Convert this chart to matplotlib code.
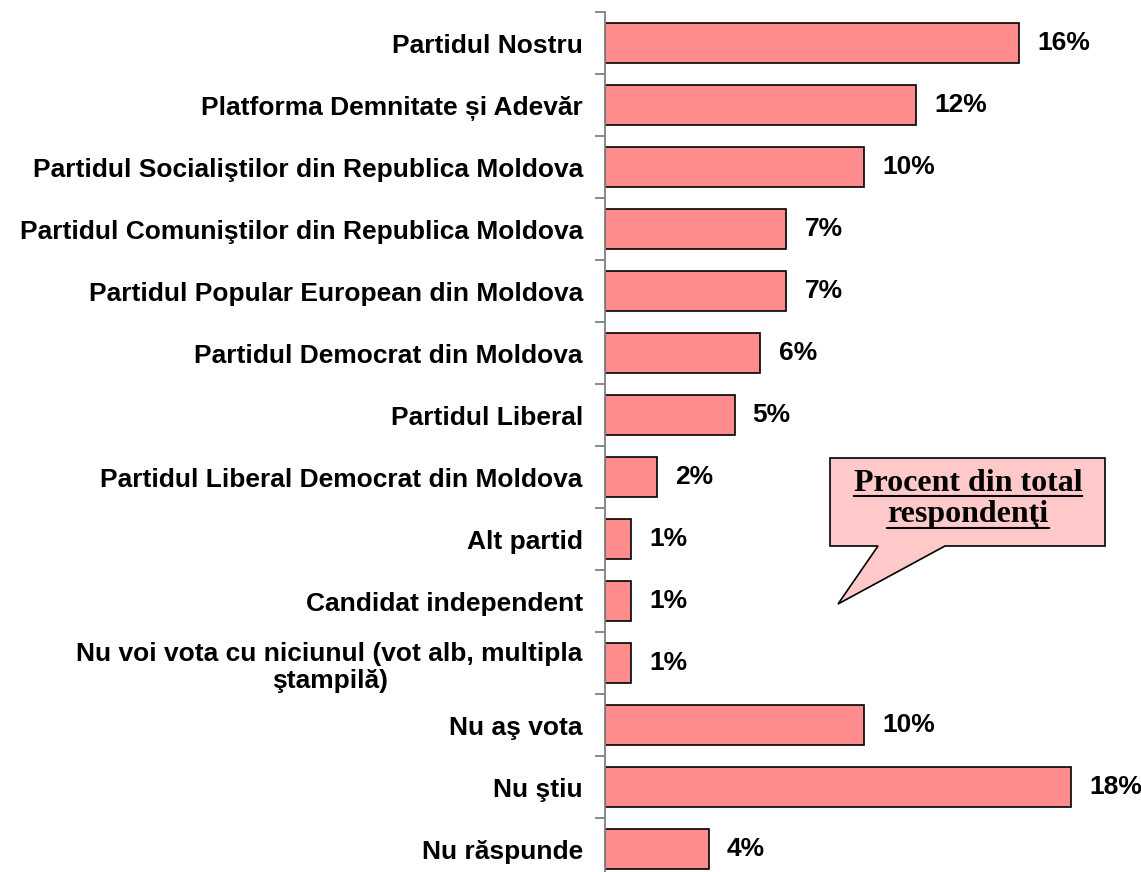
import matplotlib
matplotlib.use("Agg")
import matplotlib.pyplot as plt
from matplotlib.patches import Polygon

# данные
categories = [
    "Partidul Nostru",
    "Platforma Demnitate și Adevăr",
    "Partidul Socialiştilor din Republica Moldova",
    "Partidul Comuniştilor din Republica Moldova",
    "Partidul Popular European din Moldova",
    "Partidul Democrat din Moldova",
    "Partidul Liberal",
    "Partidul Liberal Democrat din Moldova",
    "Alt partid",
    "Candidat independent",
    "Nu voi vota cu niciunul (vot alb, multipla\nştampilă)",
    "Nu aş vota",
    "Nu ştiu",
    "Nu răspunde",
]
values = [16, 12, 10, 7, 7, 6, 5, 2, 1, 1, 1, 10, 18, 4]
value_labels = ["16%", "12%", "10%", "7%", "7%", "6%", "5%", "2%", "1%", "1%", "1%", "10%", "18%", "4%"]

W, H = 1141, 872
fig = plt.figure(figsize=(W / 100, H / 100), dpi=100)
ax = fig.add_axes([605 / W, -8 / H, (W - 605) / W, 868 / H])

pos = list(range(len(categories)))
ax.barh(pos, values, height=0.65, color="#FF8C8C", edgecolor="black", linewidth=1.2)
ax.set_xlim(0, (W - 605) / 25.9)
ax.set_ylim(len(categories) - 0.5, -0.5)

ax.set_yticks(pos)
ax.set_yticklabels(categories, fontsize=19, fontweight="bold",
                   family="Liberation Sans", multialignment="center")
ax.tick_params(axis="y", which="major", length=0, pad=16)
ax.set_yticks([p - 0.5 for p in pos] + [len(categories) - 0.5], minor=True)
ax.tick_params(axis="y", which="minor", length=7, color="#808080", width=1.3)
ax.set_xticks([])

for s in ["top", "right", "bottom"]:
    ax.spines[s].set_visible(False)
ax.spines["left"].set_color("#808080")
ax.spines["left"].set_linewidth(1.3)

for p, v, t in zip(pos, values, value_labels):
    ax.text(v + 0.7, p, t, va="center", ha="left", fontsize=19,
            fontweight="bold", family="Liberation Sans")

# выноска
def fx(px):
    return px / W

def fy(py):
    return 1 - py / H

pts = [(830, 458), (1105, 458), (1105, 546), (945, 546), (838, 604), (878, 546), (830, 546)]
poly = Polygon([(fx(x), fy(y)) for x, y in pts], closed=True, transform=fig.transFigure,
               facecolor="#FFC9C9", edgecolor="black", linewidth=1.2)
fig.patches.append(poly)

t1 = fig.text(fx(968), fy(491), "Procent din total", ha="center", va="baseline",
              fontsize=23, fontweight="bold", family="Liberation Serif")
t2 = fig.text(fx(968), fy(522), "respondenţi", ha="center", va="baseline",
              fontsize=23, fontweight="bold", family="Liberation Serif")

fig.canvas.draw()
r = fig.canvas.get_renderer()
for t, uy in [(t1, 496), (t2, 528)]:
    bb = t.get_window_extent(r)
    fig.add_artist(plt.Line2D([bb.x0 / W, bb.x1 / W], [fy(uy), fy(uy)],
                              transform=fig.transFigure, color="black", linewidth=1.5))

fig.savefig("out.png", dpi=100)
